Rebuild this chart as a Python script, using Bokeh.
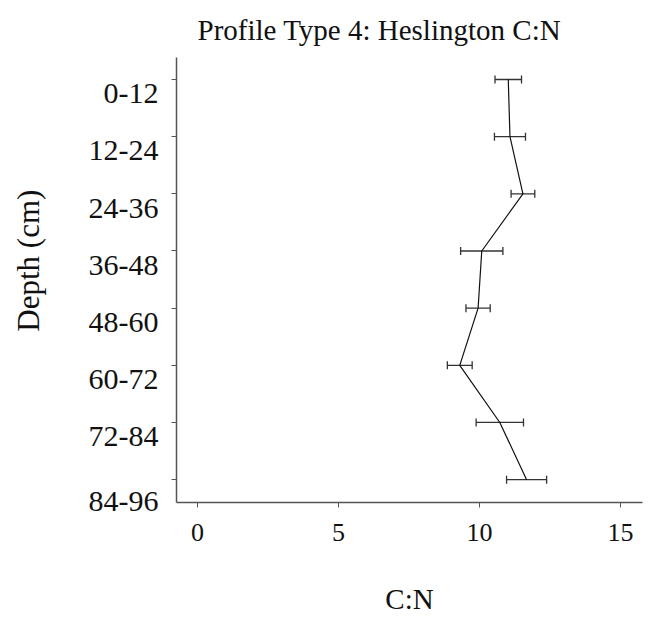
from bokeh.plotting import figure
from bokeh.models import Range1d, FixedTicker, ColumnDataSource, Whisker, TeeHead
from bokeh.embed import file_html
from bokeh.resources import INLINE

# ---- data ----
depths = ["0-12", "12-24", "24-36", "36-48", "48-60", "60-72", "72-84", "84-96"]
cn_mean = [11.02, 11.08, 11.54, 10.08, 9.95, 9.30, 10.72, 11.67]
cn_err = [0.47, 0.55, 0.42, 0.75, 0.43, 0.44, 0.84, 0.71]
x_ticks = [0, 5, 10, 15]

pos = list(range(1, len(depths) + 1))
lower = [m - e for m, e in zip(cn_mean, cn_err)]
upper = [m + e for m, e in zip(cn_mean, cn_err)]
src = ColumnDataSource(dict(y=pos, x=cn_mean, lower=lower, upper=upper))

FONT = "Liberation Serif"

p = figure(width=644, height=621, output_backend="svg", toolbar_location=None,
           x_range=Range1d(-0.745, 15.78), y_range=Range1d(8.40, 0.615),
           min_border_left=176, min_border_right=2, min_border_top=57,
           min_border_bottom=119)

p.title.text = "Profile Type 4: Heslington C:N"
p.title.text_font = FONT
p.title.text_font_size = "29px"
p.title.text_font_style = "normal"
p.title.align = "left"
p.title.offset = 21
p.title.standoff = 20
p.title.vertical_align = "top"
p.title.text_color = "#111111"

p.outline_line_color = None
p.xgrid.visible = False
p.ygrid.visible = False
p.background_fill_color = "white"
p.border_fill_color = "white"

p.line("x", "y", source=src, line_color="#111111", line_width=1.2)
wh = Whisker(source=src, base="y", lower="lower", upper="upper", dimension="width",
             line_color="#333333", line_width=1.3,
             lower_head=TeeHead(size=8, line_color="#333333", line_width=1.3),
             upper_head=TeeHead(size=8, line_color="#333333", line_width=1.3))
p.add_layout(wh)

# x axis
xa = p.xaxis[0]
xa.ticker = FixedTicker(ticks=x_ticks, minor_ticks=[])
xa.axis_label = "C:N"
xa.axis_label_text_font = FONT
xa.axis_label_text_font_size = "29px"
xa.axis_label_text_font_style = "normal"
xa.axis_label_standoff = 39
xa.major_label_text_font = FONT
xa.major_label_text_font_size = "26px"
xa.major_label_standoff = 16
xa.major_tick_out = 5
xa.major_tick_in = 0
xa.axis_line_color = "#555555"
xa.axis_line_width = 1.5
xa.major_tick_line_color = "#555555"
xa.major_label_text_color = "#111111"
xa.axis_label_text_color = "#111111"

# y axis: labels sit below each tick, tick marks drawn as minor ticks
offsets = [0.25] * 7 + [0.375]
label_pos = [q + o for q, o in zip(pos, offsets)]
ya = p.yaxis[0]
ya.ticker = FixedTicker(ticks=label_pos, minor_ticks=pos)
ya.major_label_overrides = {lp: d for lp, d in zip(label_pos, depths)}
ya.major_tick_out = 0
ya.major_tick_in = 0
ya.minor_tick_out = 5
ya.minor_tick_in = 0
ya.minor_tick_line_color = "#555555"
ya.major_label_orientation = "horizontal"
ya.major_label_text_font = FONT
ya.major_label_text_font_size = "30px"
ya.major_label_standoff = 13
# leading no-break spaces lift the rotated title a little above the frame's centre
ya.axis_label = "\u00a0" * 5 + "Depth (cm)"
ya.axis_label_text_font = FONT
ya.axis_label_text_font_size = "31px"
ya.axis_label_text_font_style = "normal"
ya.axis_label_standoff = 40
ya.axis_line_color = "#555555"
ya.axis_line_width = 1.5
ya.major_label_text_color = "#111111"
ya.axis_label_text_color = "#111111"

open("out.html", "w").write(file_html(p, INLINE))
